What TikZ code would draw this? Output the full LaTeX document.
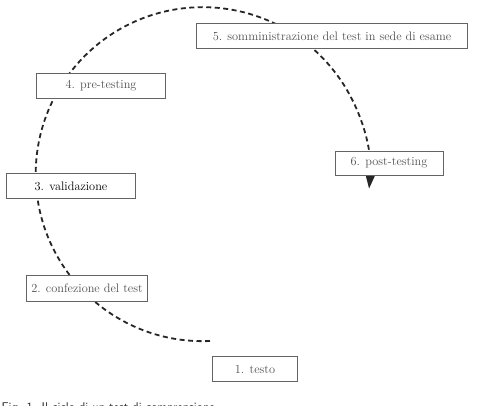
\documentclass[tikz,border=0pt]{standalone}
\usepackage{tikz}
\usetikzlibrary{arrows.meta}

\definecolor{bordo}{RGB}{100,100,100}
\definecolor{testo}{RGB}{80,80,80}

\tikzset{
  tappa/.style={draw=bordo, fill=white, text=testo, line width=0.8pt,
    inner sep=0pt, minimum height=25pt, font=\fontsize{12.3}{14}\selectfont},
  ciclo/.style={line width=1.8pt, dash pattern=on 5pt off 3.5pt, color=black!85}
}

\begin{document}
\begin{tikzpicture}[x=1pt, y=1pt]
    \useasboundingbox (0,0) rectangle (479,406);
    % ciclo
    \coordinate (inizio) at (210,65);
    \draw[ciclo, -{Triangle[length=15pt, width=10pt]}] (inizio) arc[start angle=-87.5, end angle=-365, radius=167];
    % tappe
    \node[tappa, minimum width=85pt] (testo) at (255,37) {1. testo};
    \node[tappa, minimum width=121pt, minimum height=26pt] (confezione) at (87,118) {2. confezione del test};
    \node[tappa, minimum width=129pt, text=black] (validazione) at (71,220) {3. validazione};
    \node[tappa, minimum width=129pt] (pretesting) at (101,320) {4. pre-testing};
    \node[tappa, minimum width=271pt] (somministrazione) at (332,370) {5. somministrazione del test in sede di esame};
    \node[tappa, minimum width=108pt, minimum height=24pt] (posttesting) at (389,243) {6. post-testing};
    % didascalia (tagliata dal bordo, come nell'originale)
    \node[anchor=base east, inner sep=0pt, font=\sffamily\fontsize{12.6}{14}\selectfont, text=black!85] (didascalia) at (215,-6) {Fig. 1. Il ciclo di un test di comprensione};
\end{tikzpicture}
\end{document}
